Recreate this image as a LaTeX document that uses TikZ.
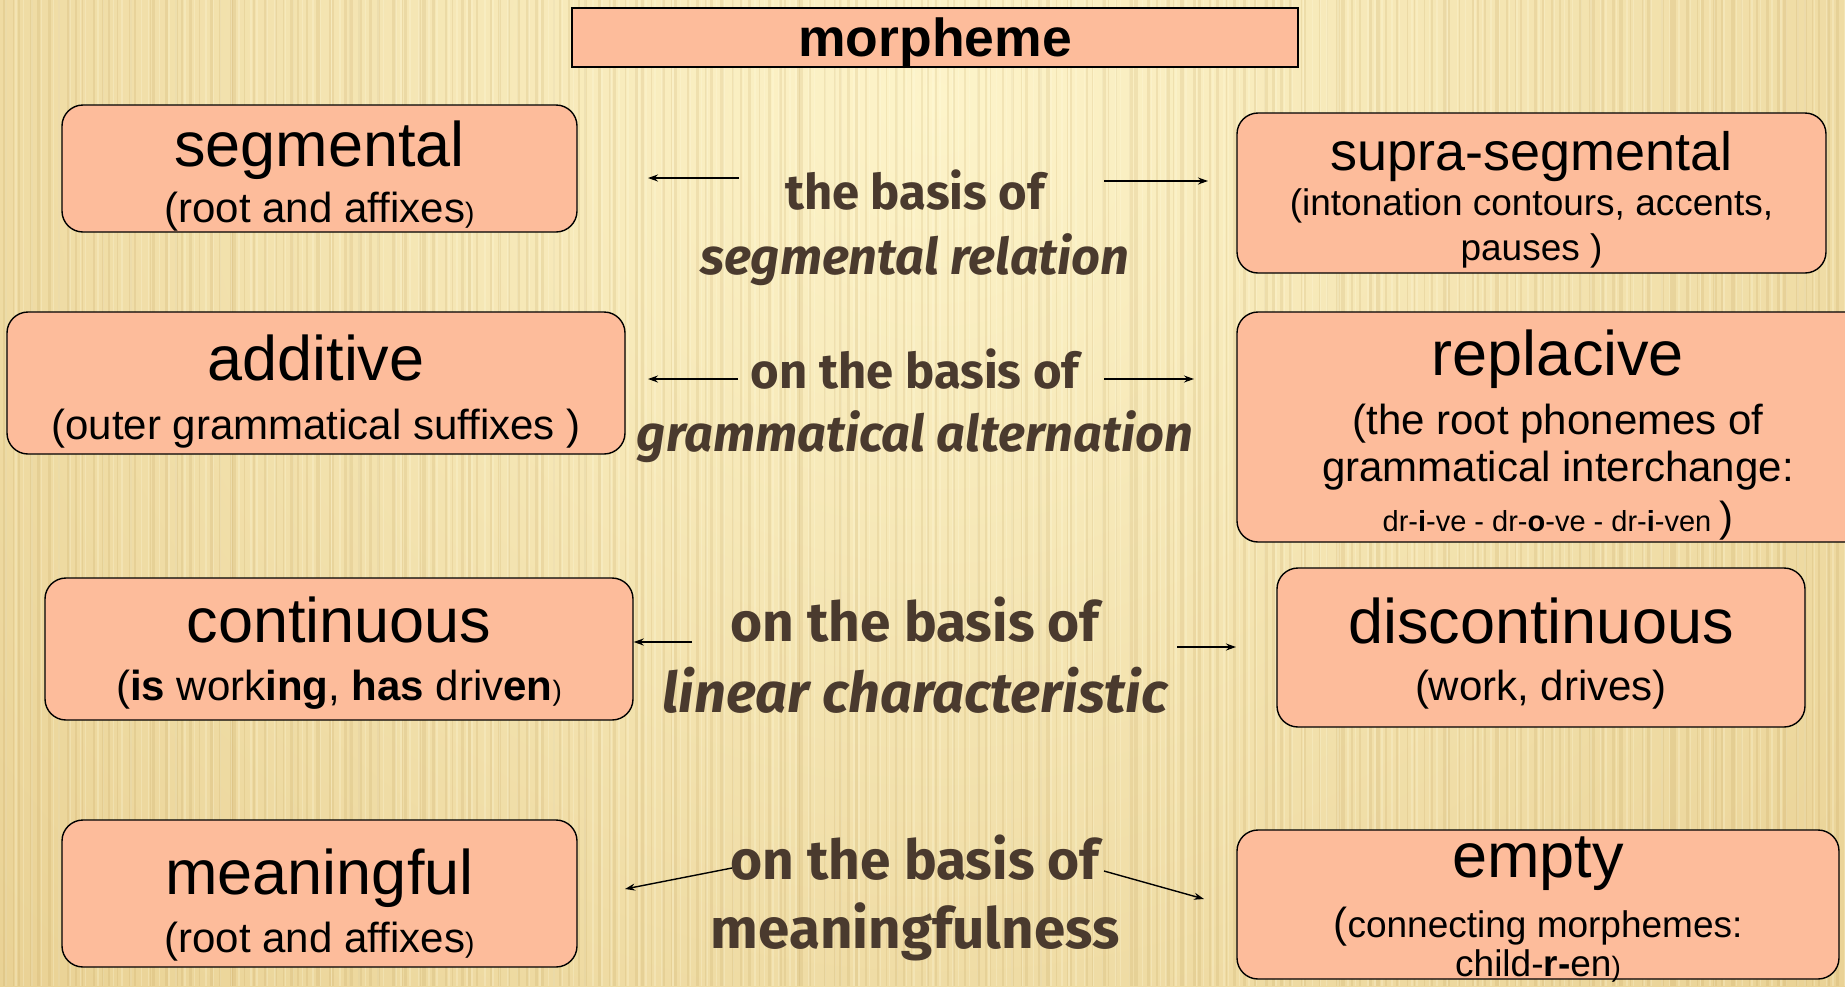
\documentclass[tikz,border=0pt]{standalone}
\usepackage{fontspec}
\setmainfont{Liberation Sans}
\newfontfamily\midfont{Fira Sans}
\usetikzlibrary{arrows.meta}
\definecolor{boxfill}{RGB}{253,188,155}
\definecolor{midtext}{RGB}{74,58,46}
\definecolor{bgA}{RGB}{253,244,202}
\definecolor{bgB}{RGB}{222,190,118}
\definecolor{stripeD}{RGB}{175,135,60}
\definecolor{stripeL}{RGB}{255,252,225}
\tikzset{
  box/.style={draw=black, line width=1.4pt, fill=boxfill, rounded corners=21pt, inner sep=0pt},
  ttl/.style={anchor=base, inner sep=0pt, font=\fontsize{63}{70}\selectfont},
  sub/.style={anchor=base, inner sep=0pt, font=\fontsize{42}{48}\selectfont},
  mid/.style={anchor=base, inner sep=0pt, text=midtext, font=\midfont\bfseries\fontsize{49}{54}\selectfont},
  midit/.style={mid, font=\midfont\bfseries\itshape\fontsize{50.5}{54}\selectfont},
  midbig/.style={mid, font=\midfont\bfseries\fontsize{55}{60}\selectfont},
  midbigit/.style={mid, font=\midfont\bfseries\itshape\fontsize{56}{60}\selectfont},
  arr/.style={-{Stealth[length=10pt,width=7pt]}, line width=1.4pt, draw=black}
}
\newcommand{\smp}{{\fontsize{28}{30}\selectfont)}}
\begin{document}
\begin{tikzpicture}[x=1pt,y=-1pt]
\useasboundingbox (0,0) rectangle (1845,986);
% background
\begin{scope}
\clip (0,0) rectangle (1845,986);
\shade[inner color=bgA, outer color=bgB] (-1100,-1900) rectangle (2970,2100);
\pgfmathsetseed{11}
\foreach \i in {0,...,205}{
  \pgfmathsetmacro\xx{\i*9+rnd*7}
  \pgfmathsetmacro\ww{1+rnd*3}
  \draw[line width=\ww pt, draw=stripeD, opacity=0.13] (\xx,0) -- (\xx,986);
  \pgfmathsetmacro\xy{\i*9+4+rnd*5}
  \draw[line width=1.5pt, draw=stripeL, opacity=0.25] (\xy,0) -- (\xy,986);
}
\end{scope}

% title
\node[draw=black, line width=1.5pt, fill=boxfill, minimum width=726pt, minimum height=59pt, inner sep=0pt] (morphB) at (935,37.5) {};
\node[anchor=base, inner sep=0pt, font=\bfseries\fontsize{53.5}{58}\selectfont] (morphT) at (935,56) {morpheme};

% row 1
\node[box, minimum width=515pt, minimum height=127pt] (segB) at (319.5,168.5) {};
\node[ttl] (segT) at (319.5,166) {segmental};
\node[sub] (segS) at (319.5,222) {(root and affixes\smp};

\node[box, minimum width=589pt, minimum height=160pt] (supB) at (1531.5,193) {};
\node[ttl, font=\fontsize{54}{60}\selectfont] (supT) at (1531.5,170) {supra-segmental};
\node[sub, font=\fontsize{37}{42}\selectfont] (supS1) at (1531.5,215) {(intonation contours, accents,};
\node[sub, font=\fontsize{37}{42}\selectfont] (supS2) at (1531.5,260) {pauses )};

\node[mid] (m1a) at (915,209) {the basis of};
\node[midit] (m1b) at (915,274) {segmental relation};
\coordinate (a1ls) at (739,178); \coordinate (a1le) at (648,178);
\coordinate (a1rs) at (1104,181); \coordinate (a1re) at (1208,181);
\draw[arr] (a1ls) -- (a1le);
\draw[arr] (a1rs) -- (a1re);

% row 2
\node[box, minimum width=618pt, minimum height=142pt] (addB) at (316,383) {};
\node[ttl] (addT) at (316,380) {additive};
\node[sub] (addS) at (316,439) {(outer grammatical suffixes )};

\node[box, minimum width=642pt, minimum height=230pt] (repB) at (1558,427) {};
\node[ttl] (repT) at (1558,375) {replacive};
\node[sub] (repS1) at (1558,434) {(the root phonemes of};
\node[sub] (repS2) at (1558,481) {grammatical interchange:};
\node[sub] (repS3) at (1558,531) {\fontsize{29}{32}\selectfont dr-\textbf{i}-ve - dr-\textbf{o}-ve - dr-\textbf{i}-ven \fontsize{42}{48}\selectfont)};

\node[mid] (m2a) at (915,388) {on the basis of};
\node[midit] (m2b) at (915,451) {grammatical alternation};
\coordinate (a2ls) at (738,379); \coordinate (a2le) at (648,379);
\coordinate (a2rs) at (1104,379); \coordinate (a2re) at (1194,379);
\draw[arr] (a2ls) -- (a2le);
\draw[arr] (a2rs) -- (a2re);

% row 3
\node[box, minimum width=588pt, minimum height=142pt] (conB) at (339,649) {};
\node[ttl] (conT) at (339,642) {continuous};
\node[sub] (conS) at (339,700) {(\textbf{is} work\textbf{ing}, \textbf{has} driv\textbf{en}\smp};

\node[box, minimum width=528pt, minimum height=159pt] (disB) at (1541,647.5) {};
\node[ttl] (disT) at (1541,643) {discontinuous};
\node[sub] (disS) at (1541,700) {(work, drives)};

\node[midbig] (m3a) at (915,641) {on the basis of};
\node[midbigit] (m3b) at (915,712) {linear characteristic};
\coordinate (a3ls) at (692,642);
\coordinate (a3rs) at (1177,647); \coordinate (a3re) at (1236,647);
\draw[arr] (a3ls) -- (a3ls -| conB.east);
\draw[arr] (a3rs) -- (a3re);

% row 4
\node[box, minimum width=515pt, minimum height=147pt] (meaB) at (319.5,893.5) {};
\node[ttl] (meaT) at (319.5,894) {meaningful};
\node[sub] (meaS) at (319.5,952) {(root and affixes\smp};

\node[box, minimum width=602pt, minimum height=149pt] (empB) at (1538,904.5) {};
\node[ttl] (empT) at (1538,877) {empty};
\node[sub] (empS1) at (1538,937) {(\fontsize{37}{42}\selectfont connecting morphemes:};
\node[sub, font=\fontsize{37}{42}\selectfont] (empS2) at (1538,976) {child-\textbf{r-}en\smp};

\node[midbig] (m4a) at (915,879) {on the basis of};
\node[midbig, font=\midfont\bfseries\fontsize{56.5}{60}\selectfont] (m4b) at (915,948) {meaningfulness};
\coordinate (a4ls) at (732,868); \coordinate (a4le) at (625,889);
\coordinate (a4rs) at (1104,871); \coordinate (a4re) at (1204,899);
\draw[arr] (a4ls) -- (a4le);
\draw[arr] (a4rs) -- (a4re);
\end{tikzpicture}
\end{document}
